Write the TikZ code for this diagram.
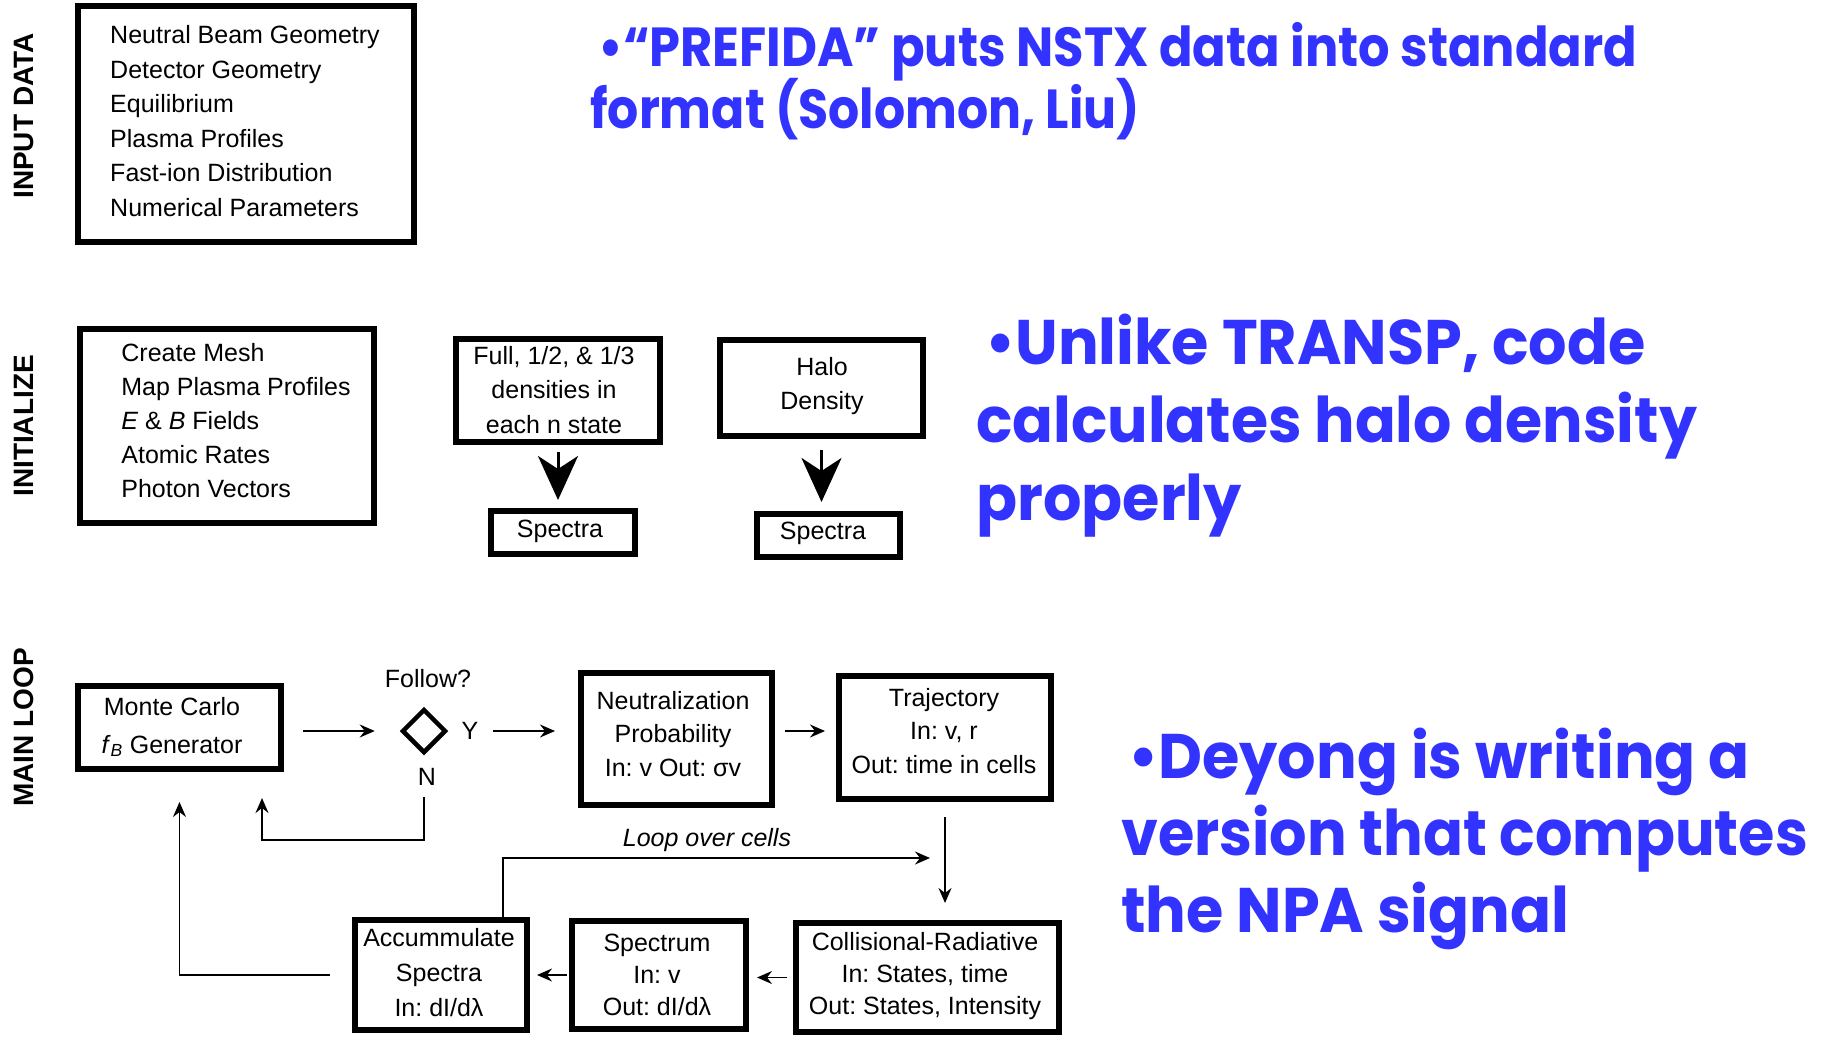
\documentclass[tikz,border=0pt]{standalone}
\usepackage{fontspec}
\setmainfont{Liberation Sans}
\newfontfamily\gothic{Poppins}
\usetikzlibrary{arrows.meta,shapes.geometric}
\definecolor{slideblue}{RGB}{51,51,255}
\newcommand{\dsize}{\fontsize{25}{34.5}\selectfont}
% narrower setting of the geometric face
\newcommand{\narrow}[2]{\scalebox{#1}[1]{#2}}
\frenchspacing
\begin{document}
\begin{tikzpicture}[x=1pt,y=-1pt,
  box/.style={draw, line width=6pt, inner sep=0pt},
  dtext/.style={font=\dsize, align=center, inner sep=0pt},
  ltext/.style={font=\dsize, align=left, inner sep=0pt},
  side/.style={font=\bfseries\fontsize{28}{28}\selectfont, rotate=90, inner sep=0pt},
  note/.style={text=slideblue, inner sep=0pt, anchor=base west},
  notebig/.style={note, font=\gothic\bfseries\fontsize{63}{63}\selectfont},
  notesmall/.style={note, font=\gothic\bfseries\fontsize{55}{55}\selectfont},
  arr/.style={line width=1.8pt, -{Stealth[length=15pt,width=13pt,inset=5pt]}},
  bigarr/.style={line width=3pt, -{Stealth[length=44pt,width=40pt,inset=13pt]}}]
\useasboundingbox (0,0) rectangle (1822,1036);
\fill[white] (0,0) rectangle (1822,1036);

% section labels
\node[side] (lblin)   at (24,116)   {INPUT DATA};
\node[side] (lblinit) at (24,426)   {INITIALIZE};
\node[side] (lblmain) at (24,727.5) {MAIN LOOP};

% input data
\node[box, minimum width=336, minimum height=236] (inp) at (246,124) {};
\node[ltext] (inpT) at (245,121) {Neutral Beam Geometry\\Detector Geometry\\Equilibrium\\Plasma Profiles\\Fast-ion Distribution\\Numerical Parameters};

% initialization
\node[box, minimum width=294, minimum height=194] (init) at (227,426) {};
\node[ltext, font=\fontsize{25}{34}\selectfont] (initT) at (236,421) {Create Mesh\\Map Plasma Profiles\\\textit{E} \& \textit{B} Fields\\Atomic Rates\\Photon Vectors};

\node[box, minimum width=204, minimum height=103] (full) at (558,390.5) {};
\node[dtext] (fullT) at (554,390) {Full, 1/2, \& 1/3\\densities in\\each n state};
\node[box, minimum width=144, minimum height=43] (spec1) at (563,532.5) {};
\node[dtext] (spec1T) at (560,531) {Spectra};

\node[box, minimum width=203, minimum height=96] (halo) at (821.5,388) {};
\node[dtext] (haloT) at (822,386) {Halo\\Density};
\node[box, minimum width=143, minimum height=43] (spec2) at (828.5,535.5) {};
\node[dtext] (spec2T) at (823,533) {Spectra};

\draw[bigarr, shorten <=7pt, shorten >=8pt] (full.south) -- (full.south |- spec1.north);
\draw[bigarr, shorten <=11pt, shorten >=9pt] (halo.south) -- (halo.south |- spec2.north);

% main loop
\node[box, minimum width=203, minimum height=83] (mc) at (179.5,727.5) {};
\node[dtext, font=\fontsize{25}{38}\selectfont] (mcT) at (172,727) {Monte Carlo\\\textit{f}\textsubscript{\textit{B}} Generator};
\node[draw, diamond, line width=4.5pt, inner sep=0pt, minimum width=44, minimum height=44] (dia) at (424,731) {};
\node[dtext] (follow) at (428,679) {Follow?};
\node[dtext] (yes) at (470,731) {Y};
\node[dtext] (no) at (427,777) {N};

\node[box, minimum width=191, minimum height=132] (neu) at (676.5,739) {};
\node[dtext, font=\fontsize{25}{33.5}\selectfont] (neuT) at (673,734) {Neutralization\\Probability\\In: v Out: σv};
\node[box, minimum width=212, minimum height=123] (traj) at (945,737.5) {};
\node[dtext, font=\fontsize{25}{33.5}\selectfont] (trajT) at (944,731) {Trajectory\\In: v, r\\Out: time in cells};
\node[box, minimum width=263, minimum height=109] (coll) at (927.5,977.5) {};
\node[dtext, font=\fontsize{25}{32}\selectfont] (collT) at (925,976) {Collisional-Radiative\\In: States, time\\Out: States, Intensity};
\node[box, minimum width=174, minimum height=108] (spec) at (659,975) {};
\node[dtext, font=\fontsize{25}{32}\selectfont] (specT) at (657,975) {Spectrum\\In: v\\Out: dI/dλ};
\node[box, minimum width=172, minimum height=110] (acc) at (441,975) {};
\node[dtext, font=\fontsize{25}{35}\selectfont] (accT) at (439,973) {Accummulate\\Spectra\\In: dI/dλ};

\draw[arr, shorten <=19pt, shorten >=25pt] (mc.east |- dia.west) -- (dia.west);
\draw[arr, shorten <=45pt, shorten >=23pt] (dia.east) -- (dia.east -| neu.west);
\draw[arr, shorten <=10pt, shorten >=11pt] (neu.east |- dia.east) -- (traj.west |- dia.east);
\draw[arr, shorten <=15pt, shorten >=17pt] (traj.south) -- (traj.south |- coll.north);
\draw[arr, shorten <=6pt, shorten >=8pt] (coll.west) -- (coll.west -| spec.east);
\draw[arr, shorten <=2pt, shorten >=7pt] (spec.west) -- (spec.west -| acc.east);
\draw[arr, shorten <=22pt, shorten >=30pt] (acc.west) -| (mc.south);
\coordinate (nturn) at (262,840);
\draw[arr, shorten <=42pt, shorten >=26pt] (dia.south) |- (nturn) -- (nturn |- mc.south);
\coordinate (loopturn) at (503,858);
\coordinate (loopend) at (930,858);
\draw[arr] (acc.north -| loopturn) -- (loopturn) -- (loopend);
\node[dtext, font=\itshape\fontsize{25}{25}\selectfont] (loopT) at (707,840) {Loop over cells};

% notes
\node[notesmall] (n1a) at (598,66)  {\narrow{0.9}{•“PREFIDA” puts NSTX data into standard}};
\node[notesmall] (n1b) at (590,128) {\narrow{0.89}{format (Solomon, Liu)}};
\node[notebig] (n2a) at (985,364) {\narrow{0.96}{•Unlike TRANSP, code}};
\node[notebig] (n2b) at (976,442) {\narrow{0.955}{calculates halo density}};
\node[notebig] (n2c) at (976,520) {\narrow{0.96}{properly}};
\node[notebig] (n3a) at (1128,778) {\narrow{0.96}{•Deyong is writing a}};
\node[notebig] (n3b) at (1121,855) {\narrow{0.935}{version that computes}};
\node[notebig] (n3c) at (1121,932) {\narrow{0.96}{the NPA signal}};
\end{tikzpicture}
\end{document}
